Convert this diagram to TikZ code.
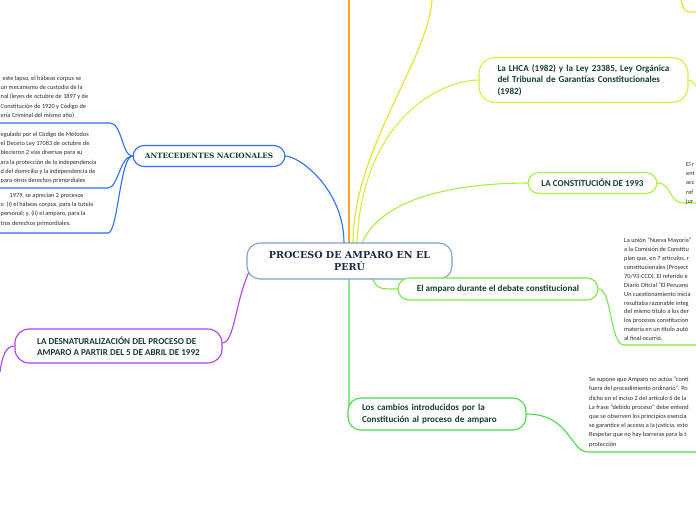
\documentclass[tikz,border=0pt]{standalone}
\usepackage{fontspec}
\setmainfont{Carlito}
\newfontfamily\hserif{DejaVu Serif}
\definecolor{txtc}{HTML}{163F33}
\definecolor{navc}{HTML}{1C2A4A}
\definecolor{bodyc}{HTML}{2A2A2A}
\definecolor{cblue}{HTML}{7AA2D6}
\definecolor{antc}{HTML}{2F6BFF}
\definecolor{orc}{HTML}{F5A623}
\definecolor{yelc}{HTML}{E8E020}
\definecolor{lhcac}{HTML}{D4EE3A}
\definecolor{c93c}{HTML}{A8F03C}
\definecolor{ampc}{HTML}{78E84A}
\definecolor{camc}{HTML}{44DD44}
\definecolor{purc}{HTML}{B040F0}
\tikzset{
  box/.style={draw, line width=1.1pt, rounded corners=11pt, fill=white, inner sep=0pt, text=txtc},
  lbl/.style={font=\bfseries\fontsize{9.1}{11.5}\selectfont, align=left},
  body/.style={font=\fontsize{6.3}{9.2}\selectfont, align=left, text=bodyc, inner sep=0pt},
  conn/.style={line width=1.1pt}
}
\begin{document}
\begin{tikzpicture}[x=1pt,y=-1pt]
\useasboundingbox (0,0) rectangle (696,520);
\clip (0,0) rectangle (696,520);

% connectors from centre
\coordinate (ob) at (349,0);
\coordinate (oy) at (432,0);
\draw[conn,antc] (344,243) .. controls (344,190) and (300,156) .. (285,156);
\draw[conn,orc] (349,243) -- (ob);
\draw[conn,yelc] (353,243) .. controls (353,150) and (428,60) .. (oy);
\draw[conn,lhcac] (357,243) .. controls (362,120) and (440,80) .. (479,80);
\draw[conn,c93c] (362,243) .. controls (385,190) and (480,183) .. (528,183);
\draw[conn,ampc] (372,278) .. controls (378,289) .. (398,289);
\draw[conn,camc] (349,278) -- (349,402) .. controls (349,414) .. (352,414);
\draw[conn,purc] (250,270) .. controls (235,300) and (235,343) .. (222,343);

% centre node
\node[box, draw=cblue, minimum width=205pt, minimum height=36pt, rounded corners=13pt,
      font=\hserif\bfseries\fontsize{9.6}{12}\selectfont, align=center, text=navc] (c) at (349.5,261) {PROCESO DE AMPARO EN EL\\PERÚ};

% first level nodes
\node[box, draw=antc, minimum width=152pt, minimum height=21pt, font=\hserif\bfseries\fontsize{7.3}{9}\selectfont] (ant) at (209,156) {ANTECEDENTES NACIONALES};
\node[box, draw=lhcac, minimum width=209pt, minimum height=45pt, rounded corners=16pt, lbl, text width=172pt] (lhca) at (583.5,80) {La LHCA (1982) y la Ley 23385, Ley Orgánica\\del Tribunal de Garantías Constitucionales\\(1982)};
\node[box, draw=c93c, minimum width=129pt, minimum height=21pt, lbl] (c93) at (592.5,183) {LA CONSTITUCIÓN DE 1993};
\node[box, draw=ampc, minimum width=200pt, minimum height=22pt, lbl] (amp) at (498,289) {El amparo durante el debate constitucional};
\node[box, draw=camc, minimum width=178pt, minimum height=32pt, rounded corners=13pt, lbl, text width=150pt] (cam) at (437,414) {Los cambios introducidos por la\\Constitución al proceso de amparo};
\node[box, draw=purc, minimum width=207pt, minimum height=34pt, rounded corners=14pt, lbl] (des) at (118.5,346) {LA DESNATURALIZACIÓN DEL PROCESO DE\\AMPARO A PARTIR DEL 5 DE ABRIL DE 1992};

% right side text blocks
\draw[conn,lhcac] (lhca.east) .. controls (692,80) and (694,84) .. (696,86);
\coordinate (r93) at (696,203);
\draw[conn,c93c] (c93.east) .. controls (672,183) and (668,203) .. (684,203) -- (r93);
\node[body, anchor=north west] (t93) at (686,162) {El r\\ent\\acc\\ref\\jur};
\coordinate (ramp) at (696,345);
\draw[conn,ampc] (amp.east) .. controls (612,289) and (610,345) .. (624,345) -- (ramp);
\node[body, anchor=north west, font=\fontsize{6.3}{8.9}\selectfont] (tamp) at (624,238) {La unión “Nueva Mayoría”\\a la Comisión de Constitu\\plan que, en 7 artículos, r\\constitucionales (Proyect\\70/93-CCD). El referido e\\Diario Oficial “El Peruano\\Un cuestionamiento inicia\\resultaba razonable integ\\del mismo título a los der\\los procesos constitucion\\materia en un título autó\\al final ocurrió.};
\coordinate (rcam) at (696,452);
\draw[conn,camc] (cam.east) .. controls (570,414) and (570,452) .. (588,452) -- (rcam);
\node[body, anchor=north west] (tcam) at (589,377) {Se supone que Amparo no actúa “conti\\fuera del procedimiento ordinario”. Po\\dicho en el inciso 2 del artículo 6 de la\\La frase “debido proceso” debe entend\\que se observen los principios esencia\\se garantice el acceso a la justicia, esto\\Respetar que no hay barreras para la t\\protección};

% top right fragment
\coordinate (tr) at (696,12);
\draw[conn,yelc] (681,0) .. controls (683,10) and (685,12) .. (692,12) -- (tr);

% purple left
\coordinate (pl) at (0,372);
\draw[conn,purc] (des.west) .. controls (6,346) and (2,356) .. (pl);

% left blocks
\coordinate (l1) at (0,123);
\coordinate (l2) at (0,188);
\coordinate (l3) at (0,233);
\draw[conn,antc] (ant.west) .. controls (122,156) and (122,123) .. (110,123) -- (l1);
\draw[conn,antc] (ant.west) .. controls (120,156) and (118,188) .. (108,188) -- (l2);
\draw[conn,antc] (ant.west) .. controls (120,156) and (118,233) .. (108,233) -- (l3);
\node[body, anchor=north west] (b1) at (0.5,76) {\hspace*{2pt}este lapso, el hábeas corpus se\\un mecanismo de custodia de la\\nal (leyes de octubre de 1897 y de\\Constitución de 1920 y Código de\\ería Criminal del mismo año)};
\node[body, anchor=north west] (b2) at (0.5,132) {egulado por el Código de Métodos\\el Deceto Ley 17083 de octubre de\\blecieron 2 vías diversas para su\\ara la protección de la independencia\\d del domicilio y la independencia de\\para otros derechos primordiales};
\node[body, anchor=north west] (b3) at (0.5,193) {\hspace*{9pt}1979, se aprecian 2 procesos\\s: (i) el hábeas corpus, para la tutela\\personal; y, (ii) el amparo, para la\\tros derechos primordiales.};
\end{tikzpicture}
\end{document}
